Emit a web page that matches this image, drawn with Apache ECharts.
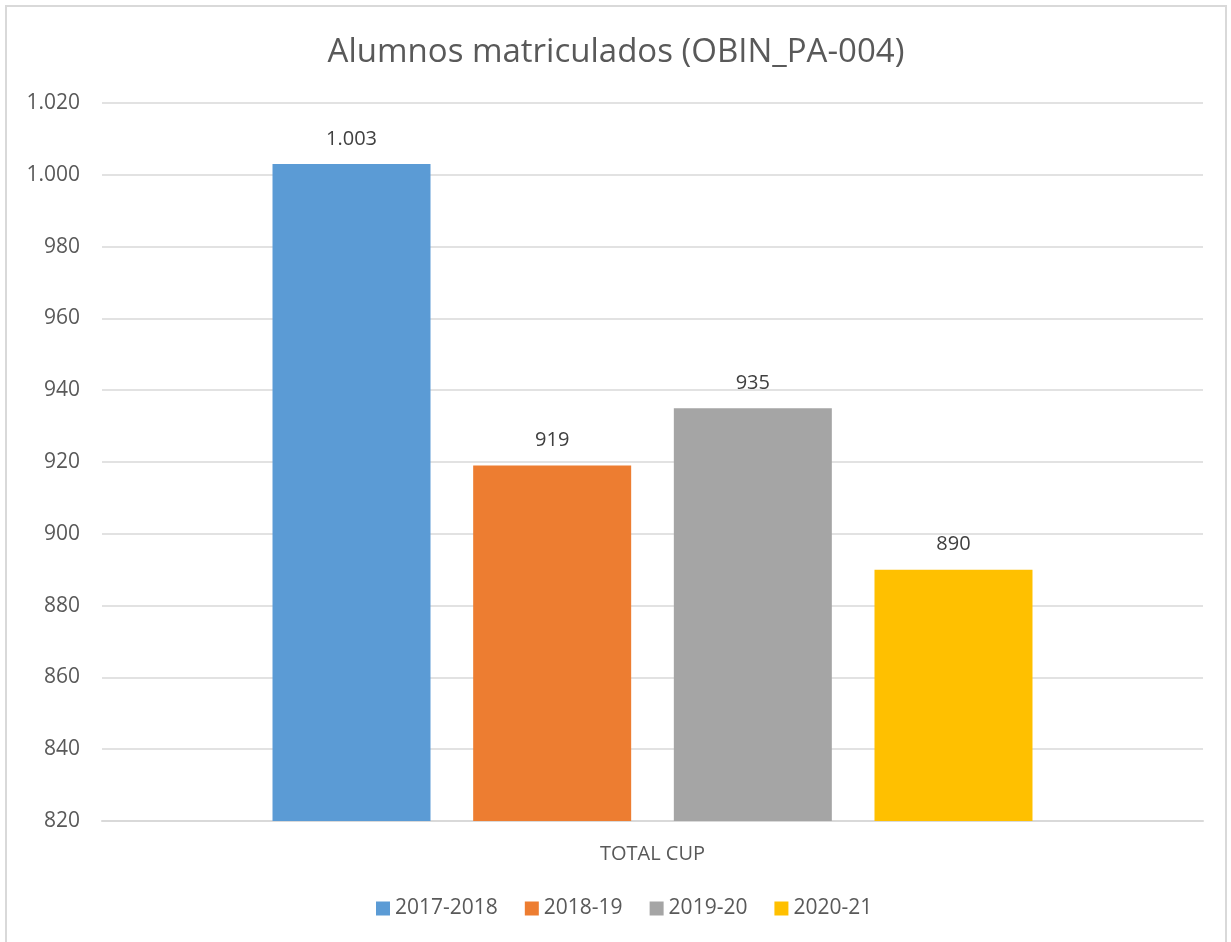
<!DOCTYPE html>
<html>
<head>
<meta charset="utf-8">
<script src="https://cdn.jsdelivr.net/npm/echarts@6/dist/echarts.min.js"></script>
<style>
  html, body { margin: 0; padding: 0; background: #fff; overflow: hidden; }
  #mychart { position: absolute; left: 5px; top: 5px; width: 1222px; height: 945px; border: 2px solid #d9d9d9; box-sizing: border-box; }
</style>
</head>
<body>
<div id="mychart"></div>
<script>
const categories = ["TOTAL CUP"];
const seriesNames = ["2017-2018", "2018-19", "2019-20", "2020-21"];
const seriesValues = [[1003], [919], [935], [890]];
const seriesColors = ["#5b9bd5", "#ed7d31", "#a5a5a5", "#ffc000"];

// miles con punto, como en el original
function fmt(v) {
  return String(v).replace(/\B(?=(\d{3})+(?!\d))/g, ".");
}

const chart = echarts.init(document.getElementById("mychart"));
const font = "'Open Sans', sans-serif";
const option = {
  animation: false,
  title: {
    text: "Alumnos matriculados (OBIN_PA-004)",
    left: "center",
    top: 24,
    textStyle: { fontFamily: font, fontSize: 33, fontWeight: "normal", color: "#595959" }
  },
  legend: {
    bottom: 24,
    left: 364,
    icon: "rect",
    itemWidth: 14,
    itemHeight: 14,
    itemGap: 27,
    textStyle: { fontFamily: font, fontSize: 21, color: "#595959" },
    data: seriesNames
  },
  grid: { left: 95, right: 22, top: 96, bottom: 127 },
  xAxis: {
    type: "category",
    data: categories,
    axisLine: { lineStyle: { color: "#d9d9d9", width: 2 } },
    axisTick: { show: false },
    axisLabel: { fontFamily: font, fontSize: 20, color: "#595959", margin: 23 }
  },
  yAxis: {
    type: "value",
    min: 820,
    max: 1020,
    interval: 20,
    axisLine: { show: false },
    axisTick: { show: false },
    splitLine: { lineStyle: { color: "#d9d9d9", width: 1.5 } },
    axisLabel: { fontFamily: font, fontSize: 21, color: "#595959", margin: 22, formatter: fmt }
  },
  series: seriesNames.map((name, i) => ({
    name: name,
    type: "bar",
    data: seriesValues[i],
    barWidth: 158,
    barGap: "27%",
    itemStyle: { color: seriesColors[i] },
    label: {
      show: true,
      position: "top",
      distance: 15,
      fontFamily: font,
      fontSize: 20,
      color: "#404040",
      formatter: p => fmt(p.value)
    }
  }))
};
chart.setOption(option);
window.addEventListener("resize", () => {
  chart.resize();
});
</script>
</body>
</html>
